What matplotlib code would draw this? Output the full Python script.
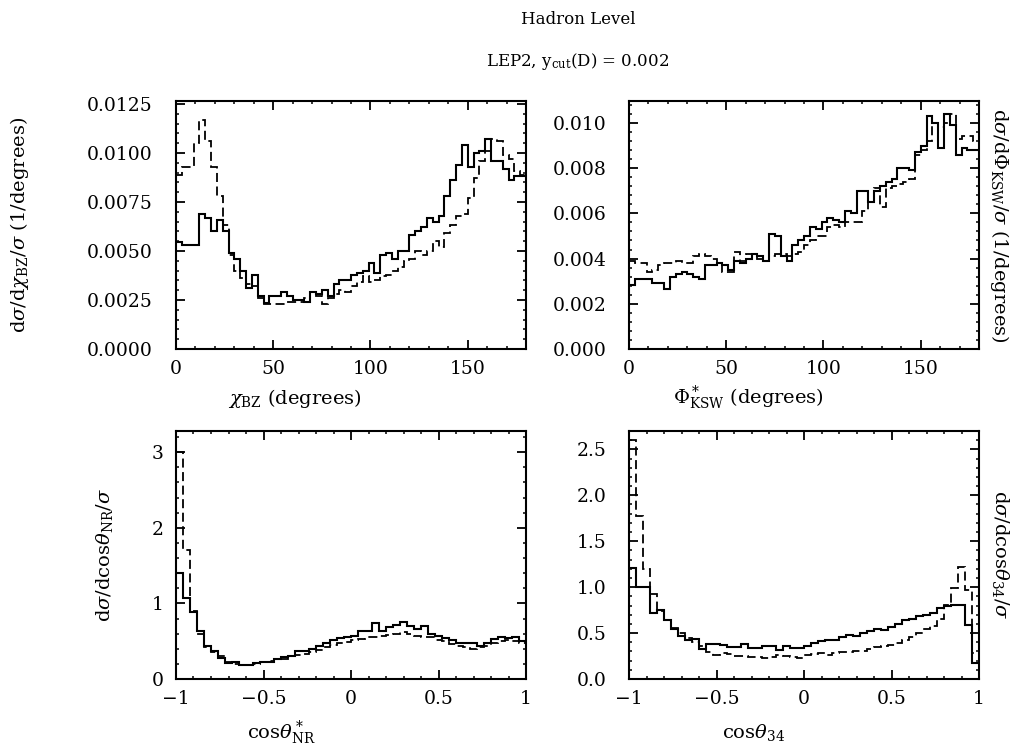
import matplotlib
matplotlib.use("Agg")
import matplotlib.pyplot as plt
import numpy as np
from matplotlib.ticker import MultipleLocator, FuncFormatter

plt.rcParams['font.family'] = 'serif'
plt.rcParams['font.serif'] = ['DejaVu Serif']
plt.rcParams['mathtext.fontset'] = 'dejavuserif'

# chi_BZ, 60 bins over 0..180 degrees
chi_solid = [0.00546, 0.00532, 0.00532, 0.00532, 0.0069, 0.0067, 0.0060, 0.0066, 0.0060, 0.0049,
             0.0046, 0.0040, 0.0031, 0.0038, 0.0027, 0.00235, 0.0027, 0.0027, 0.0029, 0.0027,
             0.0025, 0.0025, 0.0024, 0.0029, 0.0028, 0.0030, 0.0027, 0.0033, 0.0035, 0.0035,
             0.0038, 0.0039, 0.0040, 0.0044, 0.0039, 0.0048, 0.0049, 0.0046, 0.0050, 0.0050,
             0.0058, 0.0060, 0.0062, 0.0067, 0.0065, 0.0068, 0.0078, 0.0086, 0.0094, 0.0104,
             0.0093, 0.0100, 0.0101, 0.0107, 0.0096, 0.0096, 0.0092, 0.0086, 0.0088, 0.0088]
chi_dashed = [0.0089, 0.0093, 0.0093, 0.0105, 0.0117, 0.0106, 0.0093, 0.0078, 0.0063, 0.0048,
              0.0040, 0.0036, 0.0033, 0.0032, 0.0026, 0.0023, 0.0023, 0.0023, 0.0023, 0.0024,
              0.0024, 0.0024, 0.0026, 0.0029, 0.0027, 0.0023, 0.0026, 0.0028, 0.0030, 0.0029,
              0.0032, 0.0034, 0.0037, 0.0034, 0.0035, 0.0037, 0.0038, 0.0040, 0.0042, 0.0045,
              0.0046, 0.0050, 0.0048, 0.0050, 0.0055, 0.0052, 0.0059, 0.0063, 0.0068, 0.0069,
              0.0077, 0.0087, 0.0096, 0.0101, 0.0107, 0.0106, 0.0099, 0.0097, 0.0091, 0.0089]

# Phi*_KSW, 60 bins over 0..180 degrees
phi_solid = [0.00285, 0.0031, 0.0031, 0.0031, 0.0029, 0.0029, 0.00265, 0.0032, 0.0033, 0.0034,
             0.0033, 0.0032, 0.0031, 0.0037, 0.0037, 0.0038, 0.0037, 0.0035, 0.0039, 0.0038,
             0.0040, 0.0042, 0.0041, 0.0039, 0.0051, 0.0050, 0.0041, 0.0039, 0.0046, 0.0048,
             0.0050, 0.0054, 0.0053, 0.0056, 0.0058, 0.0057, 0.0056, 0.0061, 0.0060, 0.0070,
             0.0070, 0.0065, 0.0070, 0.0072, 0.0074, 0.0075, 0.0080, 0.0080, 0.0079, 0.0087,
             0.0090, 0.0103, 0.0100, 0.0089, 0.0104, 0.0099, 0.0086, 0.0089, 0.0088, 0.0088]
phi_dashed = [0.0039, 0.0038, 0.0038, 0.0034, 0.0035, 0.0037, 0.0038, 0.0038, 0.0039, 0.0038,
              0.0038, 0.0041, 0.0042, 0.0041, 0.0040, 0.0038, 0.0034, 0.0034, 0.0043, 0.0039,
              0.0042, 0.0042, 0.0040, 0.0039, 0.0041, 0.0042, 0.0042, 0.0041, 0.0042, 0.0043,
              0.0046, 0.0048, 0.0050, 0.0050, 0.0054, 0.0055, 0.0054, 0.0056, 0.0056, 0.0056,
              0.0061, 0.0065, 0.0071, 0.0063, 0.0071, 0.0072, 0.0073, 0.0074, 0.0075, 0.0086,
              0.0088, 0.0092, 0.0100, 0.0098, 0.0100, 0.0104, 0.0093, 0.0094, 0.0094, 0.0092]

# cos theta*_NR, 50 bins over -1..1
nr_solid = [1.40, 1.07, 0.88, 0.63, 0.43, 0.37, 0.28, 0.21, 0.22, 0.19,
            0.19, 0.21, 0.23, 0.23, 0.26, 0.29, 0.30, 0.37, 0.37, 0.40,
            0.43, 0.48, 0.52, 0.54, 0.56, 0.57, 0.63, 0.63, 0.74, 0.64,
            0.69, 0.72, 0.76, 0.70, 0.66, 0.70, 0.59, 0.57, 0.54, 0.51,
            0.48, 0.47, 0.47, 0.43, 0.48, 0.53, 0.55, 0.54, 0.55, 0.50]
nr_dashed = [3.00, 1.71, 0.90, 0.60, 0.42, 0.36, 0.30, 0.22, 0.20, 0.19,
             0.19, 0.20, 0.22, 0.24, 0.26, 0.27, 0.30, 0.32, 0.33, 0.36,
             0.38, 0.42, 0.45, 0.47, 0.49, 0.51, 0.53, 0.55, 0.56, 0.57,
             0.58, 0.60, 0.62, 0.60, 0.57, 0.55, 0.55, 0.52, 0.50, 0.46,
             0.43, 0.42, 0.40, 0.42, 0.44, 0.48, 0.50, 0.52, 0.50, 0.48]

# cos theta_34, 50 bins over -1..1
t34_solid = [1.21, 1.00, 1.00, 0.72, 0.75, 0.64, 0.54, 0.47, 0.43, 0.44,
             0.33, 0.38, 0.38, 0.37, 0.35, 0.35, 0.38, 0.34, 0.34, 0.355,
             0.36, 0.32, 0.36, 0.34, 0.34, 0.36, 0.39, 0.41, 0.43, 0.42,
             0.46, 0.48, 0.47, 0.50, 0.52, 0.54, 0.53, 0.57, 0.60, 0.64,
             0.65, 0.69, 0.70, 0.72, 0.77, 0.80, 0.81, 0.81, 0.59, 0.17]
t34_dashed = [2.60, 1.77, 1.20, 0.93, 0.74, 0.64, 0.55, 0.50, 0.45, 0.40,
              0.355, 0.29, 0.265, 0.28, 0.27, 0.25, 0.25, 0.24, 0.24, 0.225,
              0.24, 0.265, 0.25, 0.24, 0.225, 0.265, 0.27, 0.28, 0.265, 0.28,
              0.29, 0.29, 0.31, 0.31, 0.33, 0.35, 0.355, 0.37, 0.39, 0.43,
              0.46, 0.50, 0.54, 0.58, 0.65, 0.81, 0.99, 1.22, 0.97, 0.28]

fig = plt.figure(figsize=(10.17, 7.5), dpi=100)
W, H = 1017, 750


def make_ax(x0, y0, x1, y1):
    return fig.add_axes([x0 / W, 1 - y1 / H, (x1 - x0) / W, (y1 - y0) / H])


ax1 = make_ax(176, 101, 526, 349)
ax2 = make_ax(629, 101, 979, 349)
ax3 = make_ax(176, 431, 526, 679)
ax4 = make_ax(629, 431, 979, 679)

deg_edges = np.linspace(0, 180, 61)
cos_edges = np.linspace(-1, 1, 51)

panels = [
    (ax1, deg_edges, chi_solid, chi_dashed),
    (ax2, deg_edges, phi_solid, phi_dashed),
    (ax3, cos_edges, nr_solid, nr_dashed),
    (ax4, cos_edges, t34_solid, t34_dashed),
]
for ax, edges, s, d in panels:
    ax.stairs(s, edges, baseline=None, color='black', lw=1.5)
    ax.stairs(d, edges, baseline=None, color='black', lw=1.3, linestyle=(0, (5, 2.5)))
    ax.tick_params(which='both', direction='in', top=True, right=True, labelsize=13.5)
    ax.tick_params(which='major', length=6.2, width=1.3)
    ax.tick_params(which='minor', length=2.3, width=1.1)
    ax.tick_params(axis='x', pad=8)
    for sp in ax.spines.values():
        sp.set_linewidth(1.5)


def fmt(f):
    return FuncFormatter(lambda v, p: (f % v).replace('-', '\u2212'))


ax1.set_xlim(0, 180)
ax1.set_ylim(0, 0.01265)
ax1.xaxis.set_major_locator(MultipleLocator(50))
ax1.xaxis.set_minor_locator(MultipleLocator(10))
ax1.yaxis.set_major_locator(MultipleLocator(0.0025))
ax1.yaxis.set_minor_locator(MultipleLocator(0.0005))
ax1.yaxis.set_major_formatter(fmt('%.4f'))
ax1.xaxis.set_major_formatter(fmt('%g'))
ax1.tick_params(axis='y', pad=17)

ax2.set_xlim(0, 180)
ax2.set_ylim(0, 0.01097)
ax2.xaxis.set_major_locator(MultipleLocator(50))
ax2.xaxis.set_minor_locator(MultipleLocator(10))
ax2.yaxis.set_major_locator(MultipleLocator(0.002))
ax2.yaxis.set_minor_locator(MultipleLocator(0.0004))
ax2.yaxis.set_major_formatter(fmt('%.3f'))
ax2.xaxis.set_major_formatter(fmt('%g'))
ax2.tick_params(axis='y', pad=16)

ax3.set_xlim(-1, 1)
ax3.set_ylim(0, 3.28)
ax3.xaxis.set_major_locator(MultipleLocator(0.5))
ax3.xaxis.set_minor_locator(MultipleLocator(0.1))
ax3.yaxis.set_major_locator(MultipleLocator(1))
ax3.yaxis.set_minor_locator(MultipleLocator(0.2))
ax3.yaxis.set_major_formatter(fmt('%g'))
ax3.xaxis.set_major_formatter(fmt('%g'))
ax3.tick_params(axis='y', pad=9)

ax4.set_xlim(-1, 1)
ax4.set_ylim(0, 2.7)
ax4.xaxis.set_major_locator(MultipleLocator(0.5))
ax4.xaxis.set_minor_locator(MultipleLocator(0.1))
ax4.yaxis.set_major_locator(MultipleLocator(0.5))
ax4.yaxis.set_minor_locator(MultipleLocator(0.1))
ax4.yaxis.set_major_formatter(fmt('%.1f'))
ax4.xaxis.set_major_formatter(fmt('%g'))
ax4.tick_params(axis='y', pad=16)

lab = dict(fontsize=14, ha='center', va='center')
ax1.set_xlabel(r'$\chi_{\rm BZ}$ (degrees)', **lab)
ax1.xaxis.set_label_coords(0.34, -0.198)
ax1.set_ylabel(r'd$\sigma$/d$\chi_{\rm BZ}$/$\sigma$ (1/degrees)', rotation=90, **lab)
ax1.yaxis.set_label_coords(-0.446, 0.5)

ax2.set_xlabel(r'$\Phi^*_{\rm KSW}$ (degrees)', **lab)
ax2.xaxis.set_label_coords(0.34, -0.198)
ax2.set_ylabel(r'd$\sigma$/d$\Phi_{\rm KSW}$/$\sigma$ (1/degrees)', rotation=-90, **lab)
ax2.yaxis.set_label_coords(1.06, 0.5)

ax3.set_xlabel(r'cos$\theta^*_{\rm NR}$', **lab)
ax3.xaxis.set_label_coords(0.30, -0.215)
ax3.set_ylabel(r'd$\sigma$/dcos$\theta_{\rm NR}$/$\sigma$', rotation=90, **lab)
ax3.yaxis.set_label_coords(-0.203, 0.5)

ax4.set_xlabel(r'cos$\theta_{34}$', **lab)
ax4.xaxis.set_label_coords(0.357, -0.215)
ax4.set_ylabel(r'd$\sigma$/dcos$\theta_{34}$/$\sigma$', rotation=-90, **lab)
ax4.yaxis.set_label_coords(1.06, 0.5)

fig.text(578 / W, 1 - 20 / H, 'Hadron Level', fontsize=12, ha='center', va='center')
fig.text(578 / W, 1 - 62 / H, r'LEP2, y$_{\rm cut}$(D) = 0.002', fontsize=12, ha='center', va='center')

fig.savefig('out.png', dpi=100)
